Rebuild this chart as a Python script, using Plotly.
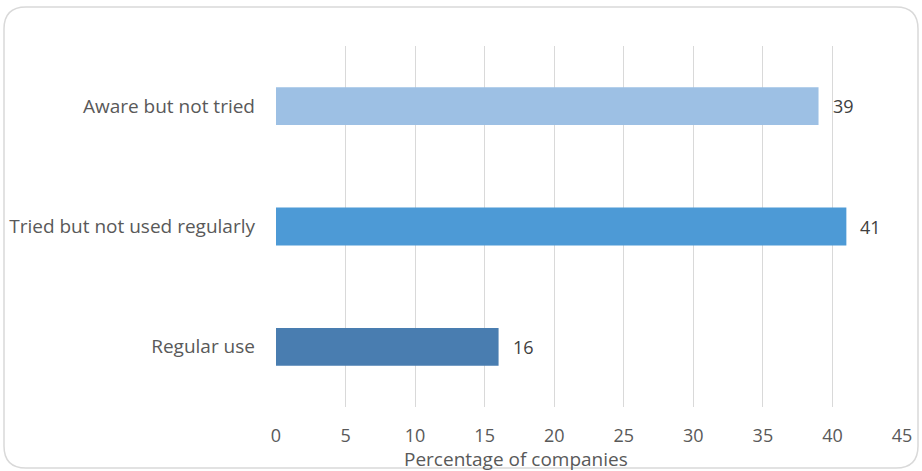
import plotly.graph_objects as go

# Survey results
categories = ["Regular use", "Tried but not used regularly", "Aware but not tried"]
values = [16, 41, 39]
bar_colors = ["#497db0", "#4d9ad6", "#9dc0e4"]
x_ticks = [0, 5, 10, 15, 20, 25, 30, 35, 40, 45]
x_title = "Percentage of companies"

W, H = 922, 471
ML, MR, MT, MB = 276, 20, 46, 64
PW, PH = W - ML - MR, H - MT - MB

FONT = "Open Sans"
TXT = "#595959"

fig = go.Figure()
fig.add_trace(go.Bar(
    y=categories, x=values, orientation="h",
    marker=dict(color=bar_colors, line=dict(width=0)),
    hoverinfo="skip",
))

# value labels to the right of each bar
for c, v in zip(categories, values):
    fig.add_annotation(x=v, y=c, text=str(v), showarrow=False,
                       xanchor="left", xshift=12,
                       font=dict(family=FONT, size=18, color="#404040"))


# pixel -> paper conversion
def px(x):
    return (x - ML) / PW


def py(y):
    return (MT + PH - y) / PH


# x-axis title, placed just under the tick labels
fig.add_annotation(text=x_title, xref="paper", yref="paper",
                   x=px(516), y=py(459),
                   xanchor="center", yanchor="middle", showarrow=False,
                   font=dict(family=FONT, size=19, color=TXT))

# rounded outer frame
x0, x1, y0, y1, r = 4, 918, 7, 468, 22
path = (f"M {px(x0 + r)},{py(y0)} L {px(x1 - r)},{py(y0)} "
        f"Q {px(x1)},{py(y0)} {px(x1)},{py(y0 + r)} "
        f"L {px(x1)},{py(y1 - r)} Q {px(x1)},{py(y1)} {px(x1 - r)},{py(y1)} "
        f"L {px(x0 + r)},{py(y1)} Q {px(x0)},{py(y1)} {px(x0)},{py(y1 - r)} "
        f"L {px(x0)},{py(y0 + r)} Q {px(x0)},{py(y0)} {px(x0 + r)},{py(y0)} Z")
fig.add_shape(type="path", path=path, xref="paper", yref="paper",
              line=dict(color="#d9d9d9", width=1.5), layer="below")

fig.update_layout(
    width=W, height=H,
    margin=dict(l=ML, r=MR, t=MT, b=MB, autoexpand=False),
    paper_bgcolor="white", plot_bgcolor="white",
    bargap=0.685, showlegend=False,
    font=dict(family=FONT, size=17, color=TXT),
    xaxis=dict(range=[0, 45], tickvals=x_ticks, showgrid=True,
               gridcolor="#d9d9d9", gridwidth=1.3, zeroline=False,
               showline=False, ticks="", ticklabelstandoff=16,
               automargin=False,
               tickfont=dict(family=FONT, size=18, color=TXT)),
    yaxis=dict(showgrid=False, zeroline=False, showline=False, ticks="",
               ticklabelstandoff=20, automargin=False,
               tickfont=dict(family=FONT, size=19, color=TXT)),
)

fig.write_html("out.html")
